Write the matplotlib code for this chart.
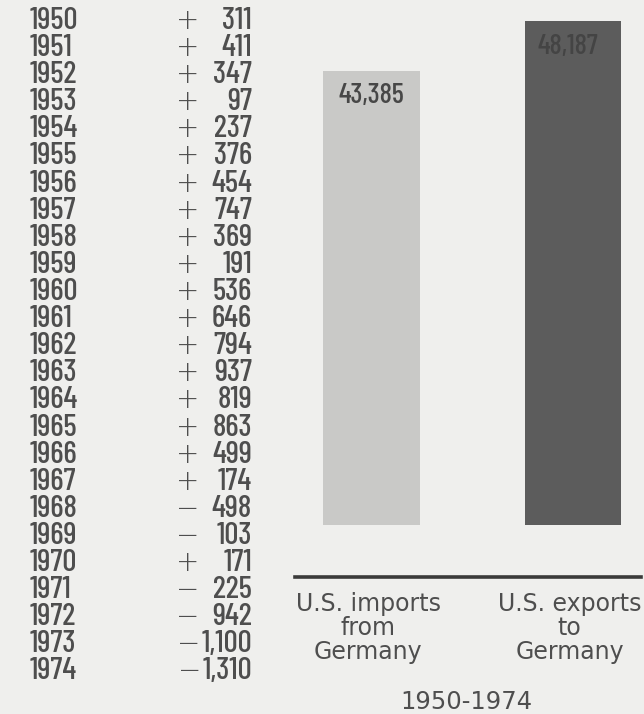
import matplotlib
matplotlib.use("Agg")
import matplotlib.pyplot as plt
from matplotlib.lines import Line2D
import matplotlib.transforms as mtransforms

years = list(range(1950, 1975))
balance = [311, 411, 347, 97, 237, 376, 454, 747, 369, 191, 536, 646, 794,
           937, 819, 863, 499, 174, -498, -103, 171, -225, -942, -1100, -1310]

categories = ["U.S. imports\nfrom\nGermany", "U.S. exports\nto\nGermany"]
totals = [43385, 48187]
period = "1950-1974"

BG = "#efefed"
TXT = "#4e4e4e"
bar_colors = ["#c9c9c7", "#5c5c5c"]
val_colors = ["#474747", "#444444"]

W, H = 644, 714
fig = plt.figure(figsize=(W / 100, H / 100), dpi=100, facecolor=BG)
renderer = fig.canvas.get_renderer()

COND = "Barlow Condensed"
SANS = "DejaVu Sans"
FS = 22.5

# Table of yearly balances
y0, dy = 18, 27.1
for i, (yr, v) in enumerate(zip(years, balance)):
    yp = 1 - (y0 + i * dy) / H
    fig.text(30 / W, yp, str(yr), ha="left", va="center_baseline", fontsize=FS,
             family=COND, fontweight="medium", color=TXT)
    sign = "+" if v > 0 else "\u2212"
    num = fig.text(252 / W, yp, f"{abs(v):,}", ha="right", va="center_baseline",
                   fontsize=FS, family=COND, fontweight="medium", color=TXT)
    if abs(v) >= 1000:
        left = num.get_window_extent(renderer).x0
        fig.text((left - 1) / W, yp, sign, ha="right", va="center_baseline",
                 fontsize=20, family=SANS, fontweight="light", color=TXT)
    else:
        fig.text(188 / W, yp, sign, ha="center", va="center_baseline",
                 fontsize=20, family=SANS, fontweight="light", color=TXT)

# Bars
ymax = 50000
bottom_px = 525
top_val_px = 21
ax_h_px = (bottom_px - top_val_px) * ymax / totals[1]
ax_left_px = 371.5 - 100.75
ax = fig.add_axes([ax_left_px / W, 1 - bottom_px / H, 403 / W, ax_h_px / H])
ax.set_facecolor("none")
ax.set_xlim(-0.5, 1.5)
ax.set_ylim(0, ymax)
ax.bar(range(len(totals)), totals, width=0.48, color=bar_colors)
offsets = [(0, -18), (-4, -19)]
for i, v in enumerate(totals):
    ax.annotate(f"{v:,}", (i, v), xytext=offsets[i], textcoords="offset points",
                ha="center", va="center", fontsize=20.5, family=COND,
                fontweight="medium", color=val_colors[i])
ax.axis("off")

# Baseline rule
fig.add_artist(Line2D([295 / W, 641 / W], [1 - 577 / H] * 2, color="#3a3a3a",
                      lw=2.6, transform=fig.transFigure))

trans = mtransforms.blended_transform_factory(ax.transData, fig.transFigure)
for i, lab in enumerate(categories):
    ax.text(i - 0.017, 1 - 628 / H, lab, transform=trans, ha="center",
            va="center", fontsize=17, family=SANS, color=TXT,
            linespacing=1.02, clip_on=False)
ax.text(0.5 - 0.03, 1 - 702 / H, period, transform=trans, ha="center",
        va="center", fontsize=17.5, family=SANS, color=TXT,
        clip_on=False)

fig.savefig("out.png", dpi=100, facecolor=BG)
